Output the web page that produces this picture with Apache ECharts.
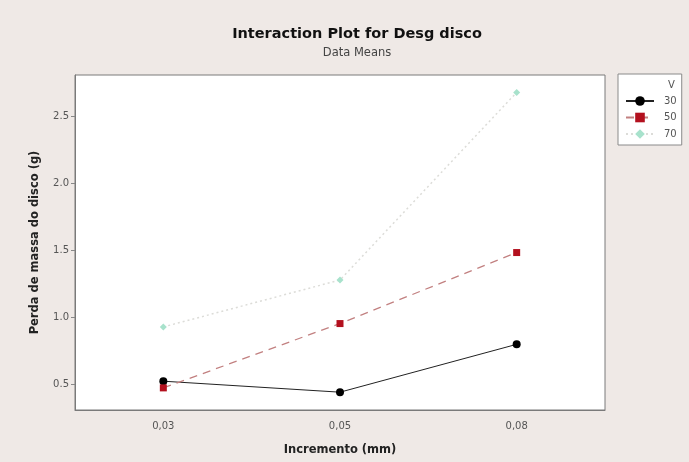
<!DOCTYPE html>
<html><head><meta charset="utf-8">
<script src="https://cdn.jsdelivr.net/npm/echarts@6/dist/echarts.min.js"></script>
<style>html,body{margin:0;padding:0;background:#efe9e6;}#c{width:689px;height:462px;}</style>
</head><body><div id="c"></div>
<script>
const categories = ['0,03', '0,05', '0,08'];
const seriesNames = ['30', '50', '70'];
const v30 = [0.525, 0.443, 0.80];
const v50 = [0.475, 0.955, 1.485];
const v70 = [0.93, 1.28, 2.68];
const yTicks = [0.5, 1.0, 1.5, 2.0, 2.5];

const chart = echarts.init(document.getElementById('c'), null, {renderer: 'canvas'});
const font = 'DejaVu Sans';
chart.setOption({
  animation: false,
  backgroundColor: '#efe9e6',
  title: {
    text: 'Interaction Plot for Desg disco',
    subtext: 'Data Means',
    left: 352, top: 22, textAlign: 'center',
    itemGap: 5,
    textStyle: {fontFamily: font, fontSize: 14.5, fontWeight: 'bold', color: '#111'},
    subtextStyle: {fontFamily: font, fontSize: 11.5, color: '#444'}
  },
  grid: {left: 75, right: 84, top: 75, bottom: 52, show: true, backgroundColor: '#ffffff', borderColor: '#7a7a7a', borderWidth: 1},
  legend: {
    orient: 'vertical', left: 618, top: 74,
    padding: [22, 5, 6, 7],
    itemGap: 6.5, itemWidth: 28, itemHeight: 12,
    align: 'left',
    borderColor: '#8a8a8a', borderWidth: 1, backgroundColor: '#ffffff',
    textStyle: {fontFamily: font, fontSize: 10, color: '#555', padding: [0, 0, 0, 5]},
    data: seriesNames
  },
  graphic: [{type: 'text', left: 668, top: 80, z: 100, style: {text: 'V', font: '10px DejaVu Sans', fill: '#555'}}],
  xAxis: {
    type: 'category', data: categories, boundaryGap: true,
    name: 'Incremento (mm)', nameLocation: 'middle', nameGap: 34,
    nameTextStyle: {fontFamily: font, fontSize: 11.5, fontWeight: 'bold', color: '#222'},
    axisLine: {lineStyle: {color: '#7a7a7a'}},
    axisTick: {alignWithLabel: true, length: 4, lineStyle: {color: '#888'}},
    axisLabel: {fontFamily: font, fontSize: 10, color: '#555', margin: 11}
  },
  yAxis: {
    type: 'value', min: 0.31, max: 2.81,
    name: 'Perda de massa do disco (g)', nameLocation: 'middle', nameGap: 34,
    nameTextStyle: {fontFamily: font, fontSize: 11.5, fontWeight: 'bold', color: '#222'},
    axisLine: {show: true, lineStyle: {color: '#7a7a7a'}},
    axisTick: {show: true, length: 4, lineStyle: {color: '#888'}, customValues: yTicks},
    axisLabel: {fontFamily: font, fontSize: 10, color: '#555', margin: 6,
      customValues: yTicks, formatter: v => v.toFixed(1)},
    splitLine: {show: false}
  },
  series: [
    {name: '30', type: 'line', data: v30, symbol: 'circle', symbolSize: 8,
      itemStyle: {color: '#000000'}, lineStyle: {color: '#222', width: 1, type: 'solid'}},
    {name: '50', type: 'line', data: v50, symbol: 'rect', symbolSize: 7,
      itemStyle: {color: '#b3101e'}, lineStyle: {color: '#c28080', width: 1.3, type: [8, 6]}},
    {name: '70', type: 'line', data: v70, symbol: 'diamond', symbolSize: 7,
      itemStyle: {color: '#a8e2cc'}, lineStyle: {color: '#dcdcd8', width: 1.5, type: [2, 3]}}
  ]
});
</script></body></html>
